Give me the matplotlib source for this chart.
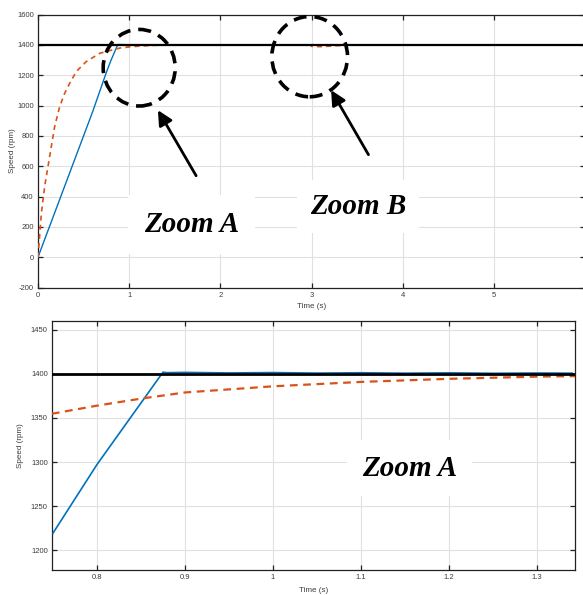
import numpy as np
import matplotlib
matplotlib.use("Agg")
from matplotlib import pyplot as plt
from matplotlib.patches import Ellipse
from matplotlib.ticker import FormatStrFormatter

# ---- data ----
# full run (top panel)
t_ref = [0, 6]
w_ref = [1400, 1400]

t_blue = [0, 0.2, 0.4, 0.6, 0.75, 0.8, 0.875, 1.0, 2.0, 3.0, 3.05, 3.2, 4.0, 5.0, 6.0]
w_blue = [0, 320, 640, 960, 1219, 1297, 1402, 1401, 1401, 1401, 1399, 1401, 1401, 1401, 1401]

t_orng = [0, 0.037, 0.073, 0.128, 0.183, 0.238, 0.293, 0.348, 0.42, 0.53, 0.68, 0.75, 0.8,
          0.85, 0.9, 1.0, 1.1, 1.2, 1.3, 1.34, 1.6, 2.0, 2.99, 3.0, 3.1, 3.2, 3.3, 3.4, 3.5, 6.0]
w_orng = [0, 290, 466, 664, 862, 993, 1081, 1147, 1224, 1290, 1345, 1355, 1364,
          1372, 1379, 1386, 1391, 1394.5, 1397, 1397.5, 1399, 1400, 1400, 1390, 1388, 1391, 1395, 1399, 1400, 1400]

# zoom A (bottom panel) - blue ripple after reaching the reference
tA_blue = [0.75, 0.775, 0.8, 0.825, 0.85, 0.875, 0.88, 0.9, 0.95, 1.0, 1.05, 1.1, 1.15, 1.2, 1.25, 1.3, 1.34]
wA_blue = [1219, 1258, 1297, 1332, 1367, 1402, 1401.5, 1401.8, 1401.2, 1401.6, 1401.0, 1401.4, 1400.9, 1401.3, 1400.8, 1401.1, 1400.9]

blue = "#0072BD"
orange = "#D95319"
grid_c = "#e0e0e0"
tick_c = "#3c3c3c"

plt.rcParams['font.family'] = ['Liberation Sans', 'DejaVu Sans']
plt.rcParams['axes.unicode_minus'] = False

W, H = 583, 595
fig = plt.figure(figsize=(W / 100, H / 100), dpi=100)


def rect(l, t, r, b):
    return [l / W, 1 - b / H, (r - l) / W, (b - t) / H]


def style(ax):
    ax.grid(True, color=grid_c, lw=0.8)
    ax.set_axisbelow(True)
    ax.tick_params(direction='in', length=3.5, width=0.9, top=True, right=True,
                   labelsize=5.5, labelcolor=tick_c, color='#222222', pad=3)
    for s in ax.spines.values():
        s.set_linewidth(0.9)
        s.set_color('#222222')


# ---- top panel ----
ax1 = fig.add_axes(rect(38, 14.5, 585, 287.5))
ax1.plot(t_blue, w_blue, color=blue, lw=1.0, zorder=3)
ax1.plot(t_orng, w_orng, color=orange, lw=1.2, ls=(0, (3, 2.5)), zorder=3)
ax1.plot(t_ref, w_ref, color='black', lw=1.6, zorder=4)
ax1.set_xlim(0, 6)
ax1.set_ylim(-200, 1600)
ax1.set_xticks([0, 1, 2, 3, 4, 5])
ax1.set_yticks(np.arange(-200, 1601, 200))
style(ax1)
ax1.set_ylabel('Speed (rpm)', fontsize=5.8, color=tick_c, labelpad=1)
ax1.set_xlabel('Time (s)', fontsize=5.8, color=tick_c, labelpad=3)

# annotations: dashed circles + arrows + labels
for cx, cy, w, h in [(1.11, 1249, 0.79, 505), (2.98, 1322, 0.83, 529)]:
    ax1.add_patch(Ellipse((cx, cy), w, h, fill=False, ec='black', lw=2.6,
                          ls=(0, (3.6, 2.2)), zorder=6, clip_on=False))
ax1.annotate('', xy=(1.30, 985), xytext=(1.75, 521),
             arrowprops=dict(arrowstyle='-|>', color='black', lw=2.0, mutation_scale=22),
             zorder=6)
ax1.annotate('', xy=(3.20, 1117), xytext=(3.64, 660),
             arrowprops=dict(arrowstyle='-|>', color='black', lw=2.0, mutation_scale=22),
             zorder=6)
ax1.text(1.68, 216, 'Zoom A', fontsize=21, fontweight='bold', style='italic',
         family='Liberation Serif', ha='center', va='center', zorder=7,
         bbox=dict(boxstyle='square,pad=0.55', fc='white', ec='none'))
ax1.text(3.51, 333, 'Zoom B', fontsize=21, fontweight='bold', style='italic',
         family='Liberation Serif', ha='center', va='center', zorder=7,
         bbox=dict(boxstyle='square,pad=0.45', fc='white', ec='none'))

# ---- bottom panel (zoom A) ----
ax2 = fig.add_axes(rect(52, 321, 575, 570))
ax2.plot(tA_blue, wA_blue, color=blue, lw=1.2, zorder=3)
ax2.plot(t_orng, w_orng, color=orange, lw=1.6, ls=(0, (3.5, 2.5)), zorder=3)
ax2.plot(t_ref, w_ref, color='black', lw=2.0, zorder=4)
ax2.set_xlim(0.749, 1.343)
ax2.set_ylim(1177.3, 1460.2)
ax2.set_xticks([0.8, 0.9, 1.0, 1.1, 1.2, 1.3])
ax2.set_yticks(np.arange(1200, 1451, 50))
ax2.xaxis.set_major_formatter(FormatStrFormatter('%g'))
style(ax2)
ax2.set_ylabel('Speed (rpm)', fontsize=5.8, color=tick_c, labelpad=5)
ax2.set_xlabel('Time (s)', fontsize=5.8, color=tick_c, labelpad=4)
ax2.text(1.155, 1293, 'Zoom A', fontsize=21, fontweight='bold', style='italic',
         family='Liberation Serif', ha='center', va='center', zorder=7,
         bbox=dict(boxstyle='square,pad=0.5', fc='white', ec='none'))

fig.savefig('out.png', dpi=100)
